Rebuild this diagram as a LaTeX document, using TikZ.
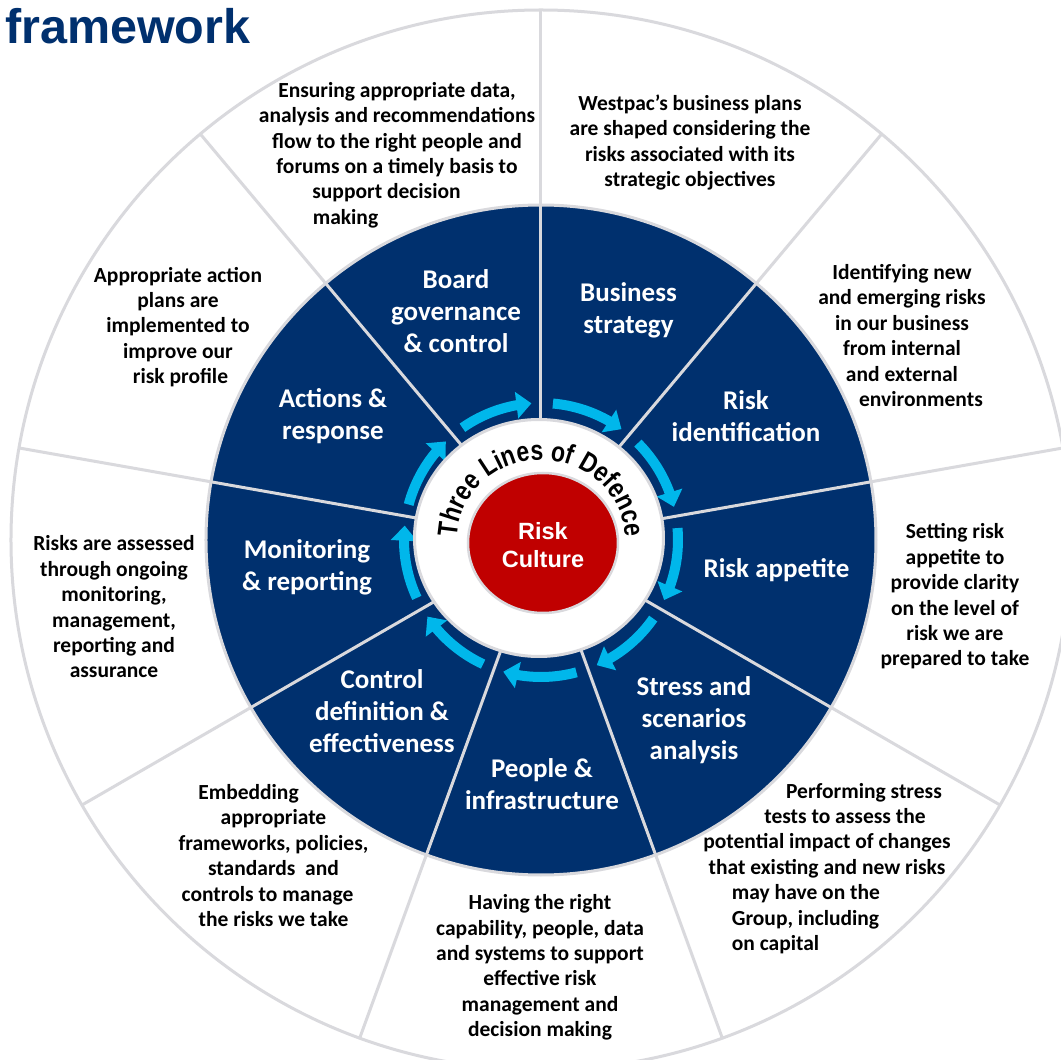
\documentclass[tikz,border=0pt]{standalone}
\usepackage{fontspec}
\setmainfont{Carlito}
\newfontfamily\arialf{Liberation Sans}
\newfontfamily\arialarch{Liberation Sans Bold}[FakeStretch=0.82]
\usetikzlibrary{arrows.meta,bending,decorations.text}
\definecolor{navy}{RGB}{0,48,110}
\definecolor{cyanarrow}{RGB}{0,183,235}
\definecolor{riskred}{RGB}{192,0,0}
\definecolor{ringgray}{RGB}{217,217,221}
\begin{document}
\begin{tikzpicture}[x=1pt,y=1pt,
  ringline/.style={draw=ringgray, line width=3pt},
  cyclearrow/.style={draw=cyanarrow, line width=10pt, -{Triangle[width=26pt,length=15pt]}},
  seglabel/.style={text=white, font=\bfseries\fontsize{27}{32}\selectfont, align=center, inner sep=0pt},
  desc/.style={text=black, font=\bfseries\fontsize{21.5}{25.4}\selectfont, align=center, inner sep=0pt}
]
\useasboundingbox (-541,-520) rectangle (520,540);
\clip (-541,-520) rectangle (520,540);
\fill[white] (-541,-520) rectangle (520,540);
% outer ring and blue disc
\path[ringline, fill=white] (0,0) circle[radius=530];
\path[ringline, fill=navy] (0,0) circle[radius=335];
% dividers
\foreach \a in {90,50,...,-230} \draw[ringline] (\a:110) -- (\a:530);
% cycle arrows
\foreach \a in {130,90,...,-190}
  \draw[cyclearrow] ({\a-5}:137) arc[start angle={\a-5}, end angle={\a-36}, radius=137];
% inner circles
\path[ringline, fill=white] (-2,2) ellipse[x radius=124.5, y radius=118.5];
\path[draw=ringgray, line width=2.5pt, fill=riskred] (2,-3) ellipse[x radius=75, y radius=70];
% curved text
\path[decorate, decoration={text along path, text align=center,
  text={|\arialarch\fontsize{28}{32}\selectfont|Three Lines of Defence}}]
  (210:84 and 80) arc[start angle=210, end angle=-30, x radius=84, y radius=80];
% texts in pixel coordinates
\begin{scope}[shift={(-541,540)}, yscale=-1]
\node[anchor=base west, inner sep=0pt, text=navy, font=\arialf\bfseries\fontsize{48.5}{56}\selectfont] (title) at (5,44) {framework};
\node[text=white, font=\arialf\bfseries\fontsize{23.5}{28}\selectfont, align=center, inner sep=0pt] (culture) at (543,545) {Risk\\Culture};
% segment labels
\node[seglabel] (board) at (456,311.5) {Board\\governance\\\& control};
\node[seglabel] (business) at (628.5,310.5) {Business\\strategy};
\node[seglabel] (riskid) at (746,416) {Risk\\identification};
\node[seglabel] (appetite) at (776.5,570) {Risk appetite};
\node[seglabel] (stress) at (694,720) {Stress and\\scenarios\\analysis};
\node[seglabel] (people) at (542,784) {People \&\\infrastructure};
\node[seglabel] (control) at (382,711) {Control\\definition \&\\effectiveness};
\node[seglabel] (monitor) at (307,567.5) {Monitoring\\\& reporting};
\node[seglabel] (actions) at (333,416.5) {Actions \&\\response};
% descriptions
\node[desc] (d1) at (397,155) {Ensuring appropriate data,\\analysis and recommendations\\flow to the right people and\\forums on a timely basis to\\support decision\rule{21pt}{0pt}\\making\rule{103pt}{0pt}};
\node[desc] (d2) at (690,142.5) {Westpac’s business plans\\are shaped considering the\\risks associated with its\\strategic objectives};
\node[desc] (d3) at (902,335.5) {Identifying new\\and emerging risks\\in our business\\from internal\\and external\\\rule{38pt}{0pt}environments};
\node[desc] (d4) at (955,596.5) {Setting risk\\appetite to\\provide clarity\\on the level of\\risk we are\\prepared to take};
\node[desc] (d5) at (827,868.5) {\rule{74pt}{0pt}Performing stress\\\rule{36pt}{0pt}tests to assess the\\potential impact of changes\\that existing and new risks\\may have on the\rule{42pt}{0pt}\\Group, including\rule{43pt}{0pt}\\on capital\rule{103pt}{0pt}};
\node[desc] (d6) at (540,967.5) {Having the right\\capability, people, data\\and systems to support\\effective risk\\management and\\decision making};
\node[desc] (d7) at (273.5,855.5) {Embedding\rule{50pt}{0pt}\\appropriate\\frameworks, policies,\\standards\ \ and\\controls to manage\rule{12pt}{0pt}\\the risks we take};
\node[desc] (d8) at (114,607) {Risks are assessed\\through ongoing\\monitoring,\\management,\\reporting and\\assurance};
\node[desc] (d9) at (178,327) {Appropriate action\\plans are\\implemented to\\improve our\\\rule{5pt}{0pt}risk profile};
\end{scope}
\end{tikzpicture}
\end{document}
